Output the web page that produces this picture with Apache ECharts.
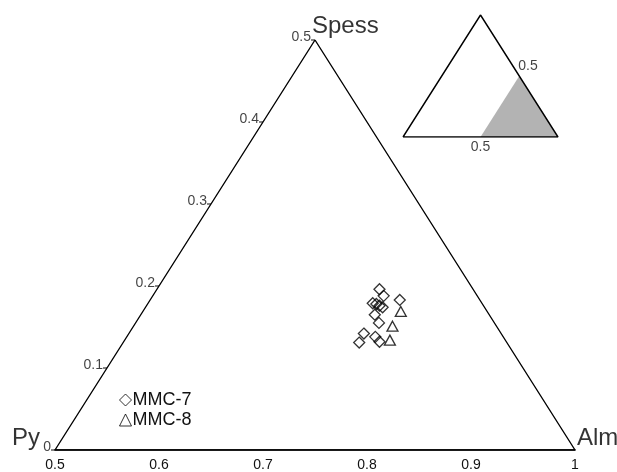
<!DOCTYPE html>
<html>
<head>
<meta charset="utf-8">
<script src="https://cdn.jsdelivr.net/npm/echarts@6/dist/echarts.min.js"></script>
<style>
  html, body { margin: 0; padding: 0; background: #fff; }
  #chart { width: 617px; height: 472px; }
</style>
</head>
<body>
<div id="chart"></div>
<script>
// Garnet end-member fractions (almandine, spessartine); pyrope = 1 - Alm - Spess
const mmc7Alm   = [0.714, 0.722, 0.716, 0.720, 0.724, 0.728, 0.725, 0.734, 0.740, 0.726, 0.727, 0.739, 0.746];
const mmc7Spess = [0.196, 0.188, 0.179, 0.178, 0.176, 0.174, 0.165, 0.155, 0.183, 0.142, 0.131, 0.138, 0.132];
const mmc8Alm   = [0.748, 0.749, 0.755];
const mmc8Spess = [0.169, 0.151, 0.134];

// Tick labels
const almTicks   = [0.5, 0.6, 0.7, 0.8, 0.9, 1];
const spessTicks = [0, 0.1, 0.2, 0.3, 0.4, 0.5];
const spessTickLabels = ['0', '0.1', '0.2', '0.3', '0.4', '0.5'];

// Sub-triangle corners (Alm, Spess): Py-side, Alm apex, Spess-side
const cornerAlm   = [0.5, 1, 0.5];
const cornerSpess = [0, 0, 0.5];
const cornerNames = ['Py', 'Alm', 'Spess'];

// Inset: whole ternary and the shaded Alm >= 0.5 field
const insetAlm   = [0, 1, 0];
const insetSpess = [0, 0, 1];
const shadeAlm   = [0.5, 1, 0.5];
const shadeSpess = [0, 0, 0.5];

const FONT = 'Liberation Sans, Arial, sans-serif';

// ternary (Alm, Spess) -> cartesian (Alm + Spess/2, Spess)
function tern(a, s) { return [a + s / 2, s]; }

const outline = cornerAlm.map((a, i) => tern(a, cornerSpess[i]));
outline.push(outline[0]);

const insetOutline = insetAlm.map((a, i) => tern(a, insetSpess[i]));
insetOutline.push(insetOutline[0]);
const shadePts = shadeAlm.map((a, i) => tern(a, shadeSpess[i]));

const cornerLabelCfg = [
  { position: 'left', distance: 15, offset: [0, -12] },
  { position: 'right', distance: 2, offset: [0, -12] },
  { position: 'right', distance: 0, offset: [-3, -14] }
];

const chart = echarts.init(document.getElementById('chart'), null, { renderer: 'canvas' });

chart.setOption({
  animation: false,
  backgroundColor: '#fff',
  textStyle: { fontFamily: FONT },
  grid: [
    { left: 55, top: 40, width: 520, height: 413 },
    { left: 403, top: 15, width: 155, height: 122 }
  ],
  xAxis: [
    {
      gridIndex: 0, type: 'value', min: 0.5, max: 1, interval: 0.1,
      splitLine: { show: false },
      axisTick: { show: false },
      axisLine: { show: true, lineStyle: { color: '#000', width: 1.6 } },
      axisLabel: {
        margin: 8, color: '#111', fontSize: 14, fontFamily: FONT,
        formatter: v => {
          const t = almTicks.find(x => Math.abs(x - v) < 1e-6);
          return t === undefined ? '' : String(t);
        }
      }
    },
    { gridIndex: 1, type: 'value', min: 0, max: 1, show: false }
  ],
  yAxis: [
    { gridIndex: 0, type: 'value', min: 0, max: 0.5, show: false },
    { gridIndex: 1, type: 'value', min: 0, max: 1, show: false }
  ],
  legend: {
    orient: 'vertical',
    left: 119, top: 391,
    itemWidth: 12, itemHeight: 12, itemGap: 2,
    padding: 0,
    data: [
      { name: 'MMC-7', icon: 'diamond' },
      { name: 'MMC-8', icon: 'triangle' }
    ],
    itemStyle: { color: 'transparent', borderColor: '#000', borderWidth: 1 },
    textStyle: { fontSize: 18, color: '#111', fontFamily: FONT, padding: [0, 0, 0, -4] },
    selectedMode: false
  },
  series: [
    {
      name: 'outline', type: 'line', xAxisIndex: 0, yAxisIndex: 0,
      data: outline, symbol: 'none', silent: true,
      lineStyle: { color: '#000', width: 1.4 }, z: 3
    },
    {
      name: 'corners', type: 'scatter', xAxisIndex: 0, yAxisIndex: 0,
      symbolSize: 0, silent: true,
      data: cornerAlm.map((a, i) => ({
        value: tern(a, cornerSpess[i]),
        label: Object.assign({
          show: true, formatter: cornerNames[i],
          fontSize: 24, color: '#000', fontFamily: FONT
        }, cornerLabelCfg[i])
      }))
    },
    {
      name: 'spessTicks', type: 'scatter', xAxisIndex: 0, yAxisIndex: 0,
      symbol: 'rect', symbolSize: [4, 1.2], symbolOffset: [-2, 0], silent: true,
      itemStyle: { color: '#000' },
      data: spessTicks.map((s, i) => ({
        value: tern(0.5, s),
        label: {
          show: true, position: 'left', distance: 0, offset: [0, -3],
          formatter: spessTickLabels[i], fontSize: 14, color: '#111', fontFamily: FONT
        }
      }))
    },
    {
      name: 'MMC-7', type: 'scatter', xAxisIndex: 0, yAxisIndex: 0,
      symbol: 'diamond', symbolSize: 11,
      itemStyle: { color: 'transparent', borderColor: '#000', borderWidth: 1.3 },
      data: mmc7Alm.map((a, i) => tern(a, mmc7Spess[i])), z: 4
    },
    {
      name: 'MMC-8', type: 'scatter', xAxisIndex: 0, yAxisIndex: 0,
      symbol: 'triangle', symbolSize: [11, 10],
      itemStyle: { color: 'transparent', borderColor: '#000', borderWidth: 1.3 },
      data: mmc8Alm.map((a, i) => tern(a, mmc8Spess[i])), z: 4
    },
    {
      name: 'insetShade', type: 'custom', xAxisIndex: 1, yAxisIndex: 1,
      silent: true, data: [[0, 0]], z: 1,
      renderItem: (params, api) => ({
        type: 'polygon',
        shape: { points: shadePts.map(p => api.coord(p)) },
        style: { fill: '#b3b3b3', stroke: null }
      })
    },
    {
      name: 'insetOutline', type: 'line', xAxisIndex: 1, yAxisIndex: 1,
      data: insetOutline, symbol: 'none', silent: true,
      lineStyle: { color: '#000', width: 1.4 }, z: 3
    },
    {
      name: 'insetLabels', type: 'scatter', xAxisIndex: 1, yAxisIndex: 1,
      symbolSize: 0, silent: true,
      data: [
        { value: shadePts[0], label: { show: true, position: 'bottom', distance: 3, formatter: '0.5', fontSize: 14, color: '#111', fontFamily: FONT } },
        { value: shadePts[2], label: { show: true, position: 'right', distance: 0, offset: [-1, -10], formatter: '0.5', fontSize: 14, color: '#111', fontFamily: FONT } }
      ]
    }
  ]
});
</script>
</body>
</html>
